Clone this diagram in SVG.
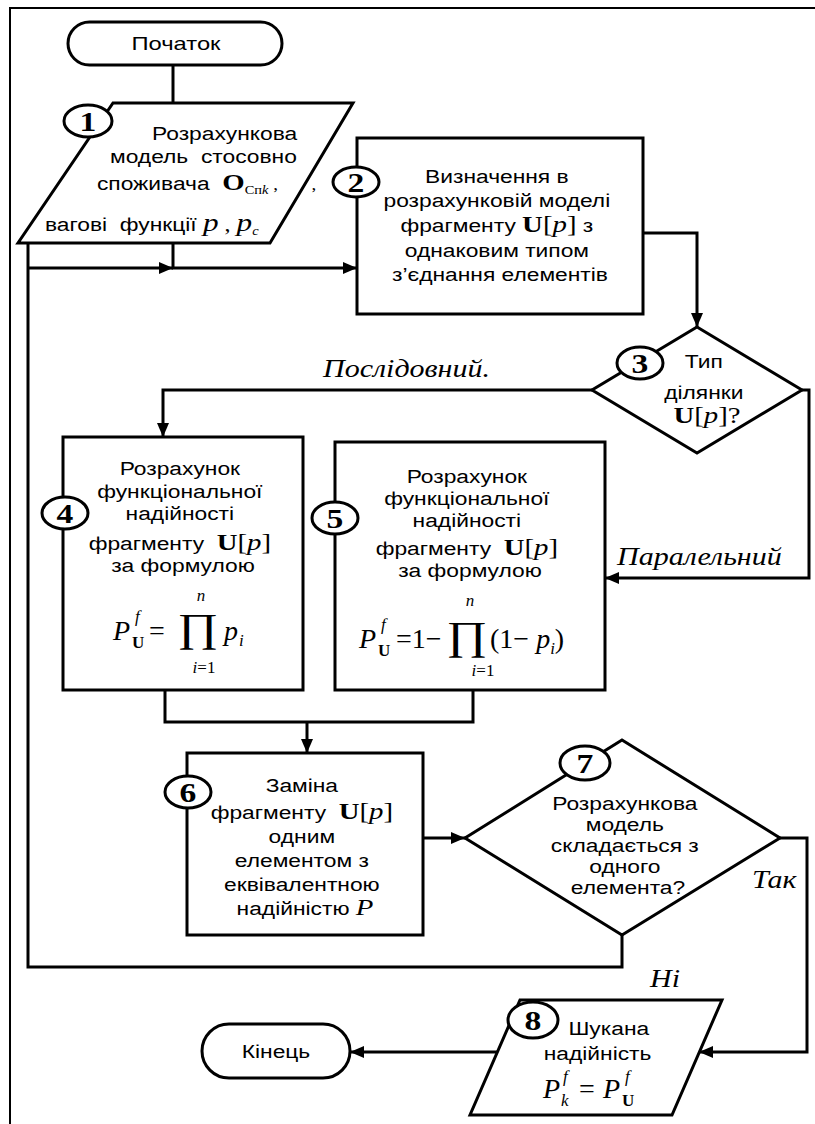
<svg xmlns="http://www.w3.org/2000/svg" width="815" height="1124" viewBox="0 0 815 1124">
<defs>
<marker id="arr" viewBox="0 0 14 12" refX="14" refY="6" markerWidth="14" markerHeight="12" markerUnits="userSpaceOnUse" orient="auto">
<path d="M0,0 L14,6 L0,12 z" fill="#000"/>
</marker>
<style>
.shape{fill:#fff;stroke:#000;stroke-width:3}
.wire{fill:none;stroke:#000;stroke-width:3}
.frame{fill:none;stroke:#000;stroke-width:2}
.tag{fill:#fff;stroke:#000;stroke-width:3}
.num{font-family:"Liberation Serif","Times New Roman",serif;font-weight:bold;font-size:28px;text-anchor:middle;fill:#000}
.t{font-family:"Liberation Sans",Arial,sans-serif;font-size:19px;text-anchor:middle;fill:#000}
.ts{font-family:"Liberation Sans",Arial,sans-serif;font-size:19px;fill:#000}
.s{font-family:"Liberation Serif","Times New Roman",serif;font-size:24px}
.b{font-weight:bold}
.i{font-style:italic}
.lbl{font-family:"Liberation Serif","Times New Roman",serif;font-style:italic;font-size:25px;fill:#000}
.f{font-family:"Liberation Serif","Times New Roman",serif;font-size:28px;fill:#000}
.fs{font-family:"Liberation Serif","Times New Roman",serif;font-size:17px;fill:#000}
.pi{font-family:"Liberation Serif","Times New Roman",serif;font-size:40px;text-anchor:middle;fill:#000}
</style>
</defs>
<rect width="815" height="1124" fill="#fff"/>
<!-- page frame -->
<polyline class="frame" points="10,1124 10,8 815,8"/>

<!-- connectors -->
<g id="connectors">
<line class="wire" x1="173" y1="65" x2="173" y2="103"/>
<polyline class="wire" points="173,243 173,268 357,268" marker-end="url(#arr)"/>
<polyline class="wire" points="622,935 622,967 28,967 28,243"/>
<polyline class="wire" points="28,268 173,268" marker-end="url(#arr)"/>
<polyline class="wire" points="643,233 697,233 697,327" marker-end="url(#arr)"/>
<polyline class="wire" points="592,390 163,390 163,437" marker-end="url(#arr)"/>
<polyline class="wire" points="802,390 809,390 809,578 605,578" marker-end="url(#arr)"/>
<polyline class="wire" points="165,690 165,722 473,722 473,690"/>
<polyline class="wire" points="307,722 307,753" marker-end="url(#arr)"/>
<polyline class="wire" points="423,838 465,838" marker-end="url(#arr)"/>
<polyline class="wire" points="780,838 807,838 807,1052 699,1052" marker-end="url(#arr)"/>
<polyline class="wire" points="497,1052 350,1052" marker-end="url(#arr)"/>
<text class="lbl" transform="translate(323 0) scale(1.2 1)" x="0" y="377">Послідовний.</text>
<text class="lbl" transform="translate(617 0) scale(1.2 1)" x="0" y="565">Паралельний</text>
<text class="lbl" transform="translate(752 0) scale(1.2 1)" x="0" y="888">Так</text>
<text class="lbl" transform="translate(650 0) scale(1.2 1)" x="0" y="987">Ні</text>
</g>

<!-- start -->
<g id="start">
<rect class="shape" x="68" y="22" width="214" height="43" rx="21.5"/>
<text class="t" transform="translate(176 0) scale(1.25 1)" x="0" y="50">Початок</text>
</g>

<!-- 1: input data -->
<g id="node1">
<polygon class="shape" points="113,103 353,103 270,243 18,243"/>
<g class="ts" transform="scale(1.2 1)">
<text x="126.7" y="140">Розрахункова</text>
<text x="91.7" y="163" xml:space="preserve">модель  стосовно</text>
<text x="80.8" y="190" xml:space="preserve">споживача  <tspan class="s b">O</tspan><tspan class="s" style="font-size:12px" dy="4">Сп</tspan><tspan class="s i" style="font-size:12px">k</tspan><tspan class="s" style="font-size:16px" dy="-4"> ,       ,</tspan></text>
<text x="37.5" y="231" xml:space="preserve">вагові  функції <tspan class="s i" style="font-size:26px">p</tspan><tspan class="s" style="font-size:20px"> , </tspan><tspan class="s i" style="font-size:26px">p</tspan><tspan class="s i" style="font-size:12px" dy="4">c</tspan></text>
</g>
<ellipse class="tag" cx="88" cy="121" rx="24" ry="16"/>
<text class="num" transform="translate(88 0) scale(1.2 1)" x="0" y="131">1</text>
</g>

<!-- 2 -->
<g id="node2">
<rect class="shape" x="357" y="138" width="286" height="176"/>
<text class="t" transform="translate(500 0) scale(1.2 1)">
<tspan x="0" y="183">Визначення в</tspan>
<tspan x="0" y="207">розрахунковій моделі</tspan>
<tspan x="0" y="232">фрагменту <tspan class="s b">U</tspan><tspan class="s">[</tspan><tspan class="s i">p</tspan><tspan class="s">]</tspan> з</tspan>
<tspan x="0" y="257">однаковим типом</tspan>
<tspan x="0" y="281">з’єднання елементів</tspan>
</text>
<ellipse class="tag" cx="356" cy="182" rx="23" ry="15"/>
<text class="num" transform="translate(356 0) scale(1.2 1)" x="0" y="192">2</text>
</g>

<!-- 3 -->
<g id="node3">
<polygon class="shape" points="697,327 802,390 697,453 592,390"/>
<text class="t" transform="translate(707 0) scale(1.2 1)">
<tspan x="0" y="368">Тип</tspan>
<tspan x="0" y="399">ділянки</tspan>
<tspan x="0" y="423"><tspan class="s b">U</tspan><tspan class="s">[</tspan><tspan class="s i">p</tspan><tspan class="s">]?</tspan></tspan>
</text>
<ellipse class="tag" cx="640" cy="363" rx="23" ry="16"/>
<text class="num" transform="translate(640 0) scale(1.2 1)" x="0" y="373">3</text>
</g>

<!-- 4 -->
<g id="node4">
<rect class="shape" x="63" y="437" width="240" height="253"/>
<text class="t" transform="translate(183 0) scale(1.2 1)">
<tspan x="0" y="475">Розрахунок</tspan>
<tspan x="0" y="498">функціональної</tspan>
<tspan x="0" y="520">надійності</tspan>
<tspan x="0" y="550" xml:space="preserve">фрагменту  <tspan class="s b">U</tspan><tspan class="s">[</tspan><tspan class="s i">p</tspan><tspan class="s">]</tspan></tspan>
<tspan x="0" y="572">за формулою</tspan>
</text>
<text class="f i" x="113" y="640">P</text>
<text class="fs i" x="135" y="622">f</text>
<text class="fs b" x="132" y="648">U</text>
<text class="f" x="149" y="640">=</text>
<text class="pi" transform="translate(198 0) scale(1.25 1)" x="0" y="641">∏</text>
<text class="fs i" x="201" y="601" text-anchor="middle">n</text>
<text class="fs" x="204" y="673" text-anchor="middle"><tspan class="i">i</tspan>=1</text>
<text class="f i" x="224" y="640">p</text>
<text class="fs i" x="239" y="646">i</text>
<ellipse class="tag" cx="65" cy="513" rx="23" ry="16"/>
<text class="num" transform="translate(65 0) scale(1.2 1)" x="0" y="523">4</text>
</g>

<!-- 5 -->
<g id="node5">
<rect class="shape" x="335" y="442" width="270" height="248"/>
<text class="t" transform="translate(470 0) scale(1.2 1)">
<tspan x="0" y="483">Розрахунок</tspan>
<tspan x="0" y="505">функціональної</tspan>
<tspan x="0" y="527">надійності</tspan>
<tspan x="0" y="555" xml:space="preserve">фрагменту  <tspan class="s b">U</tspan><tspan class="s">[</tspan><tspan class="s i">p</tspan><tspan class="s">]</tspan></tspan>
<tspan x="0" y="577">за формулою</tspan>
</text>
<text class="f i" x="359" y="648">P</text>
<text class="fs i" x="381" y="630">f</text>
<text class="fs b" x="378" y="656">U</text>
<text class="f" x="396" y="648">=1−</text>
<text class="pi" transform="translate(467 0) scale(1.25 1)" x="0" y="649">∏</text>
<text class="fs i" x="470" y="606" text-anchor="middle">n</text>
<text class="fs" x="483" y="676" text-anchor="middle"><tspan class="i">i</tspan>=1</text>
<text class="f" x="490" y="648">(1− <tspan class="i">p</tspan><tspan style="font-size:17px" class="i" dy="6">i</tspan><tspan dy="-6">)</tspan></text>
<ellipse class="tag" cx="335" cy="518" rx="23" ry="16"/>
<text class="num" transform="translate(335 0) scale(1.2 1)" x="0" y="528">5</text>
</g>

<!-- 6 -->
<g id="node6">
<rect class="shape" x="187" y="753" width="236" height="182"/>
<text class="t" transform="translate(305 0) scale(1.2 1)">
<tspan x="0" y="792">Заміна</tspan>
<tspan x="0" y="819" xml:space="preserve">фрагменту  <tspan class="s b">U</tspan><tspan class="s">[</tspan><tspan class="s i">p</tspan><tspan class="s">]</tspan></tspan>
<tspan x="0" y="843">одним</tspan>
<tspan x="0" y="867">елементом з</tspan>
<tspan x="0" y="891">еквівалентною</tspan>
<tspan x="0" y="915">надійністю <tspan class="s i">P</tspan></tspan>
</text>
<ellipse class="tag" cx="188" cy="792" rx="23" ry="16"/>
<text class="num" transform="translate(188 0) scale(1.2 1)" x="0" y="802">6</text>
</g>

<!-- 7 -->
<g id="node7">
<polygon class="shape" points="622,740 780,838 622,935 465,838"/>
<text class="t" transform="translate(628 0) scale(1.2 1)">
<tspan x="0" y="810">Розрахункова</tspan>
<tspan x="0" y="831">модель</tspan>
<tspan x="0" y="852">складається з</tspan>
<tspan x="0" y="873">одного</tspan>
<tspan x="0" y="894">елемента?</tspan>
</text>
<ellipse class="tag" cx="585" cy="763" rx="25" ry="17"/>
<text class="num" transform="translate(585 0) scale(1.2 1)" x="0" y="773">7</text>
</g>

<!-- 8: result -->
<g id="node8">
<polygon class="shape" points="520,1000 722,1000 672,1115 470,1115"/>
<text class="t" transform="translate(0 0) scale(1.2 1)">
<tspan x="510" y="1035">Шукана</tspan>
<tspan x="498" y="1060">надійність</tspan>
</text>
<text class="f i" x="543" y="1098">P</text>
<text class="fs i" x="563" y="1082">f</text>
<text class="fs i" x="561" y="1106">k</text>
<text class="f" x="579" y="1098">=</text>
<text class="f i" x="603" y="1098">P</text>
<text class="fs i" x="625" y="1082">f</text>
<text class="fs b" x="622" y="1106">U</text>
<ellipse class="tag" cx="533" cy="1020" rx="25" ry="18"/>
<text class="num" transform="translate(533 0) scale(1.2 1)" x="0" y="1030">8</text>
</g>

<!-- end -->
<g id="end">
<rect class="shape" x="202" y="1024" width="148" height="54" rx="27"/>
<text class="t" transform="translate(276 0) scale(1.2 1)" x="0" y="1058">Кінець</text>
</g>
</svg>
